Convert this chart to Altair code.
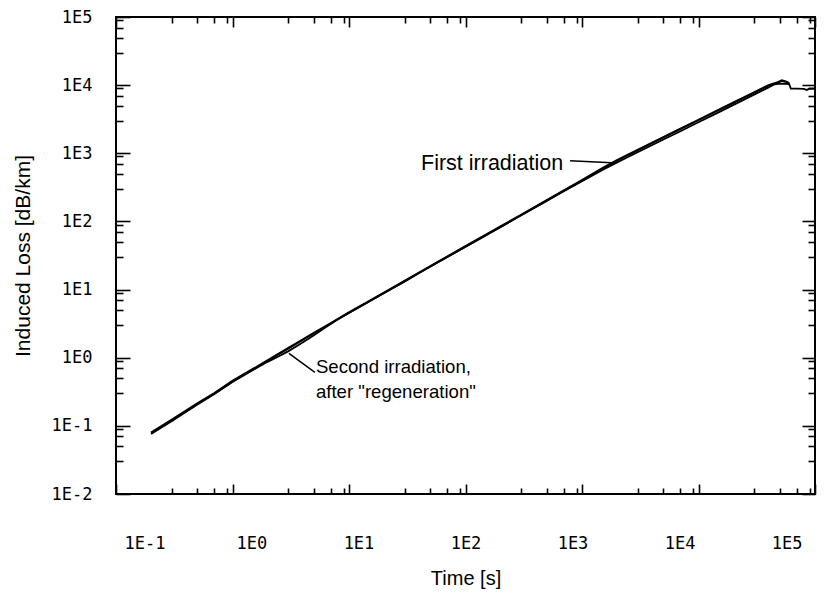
import altair as alt
import pandas as pd

# ---- data ----
first_t = [0.2, 0.3, 0.5, 0.7, 1, 1.5, 2, 3, 4, 5, 7, 10, 15, 20, 30, 40, 60, 100,
           150, 200, 300, 450, 700, 1000, 1500, 2000, 3000, 5000, 7000, 10000,
           15000, 20000, 30000, 40000, 48000, 52000, 56000, 60000]
first_loss = [0.079, 0.122, 0.212, 0.302, 0.455, 0.68, 0.91, 1.37, 1.83, 2.3, 3.2, 4.6,
              6.8, 9.0, 13.3, 17.7, 26.2, 43, 63.5, 84, 124, 184, 283, 400, 600, 790,
              1110, 1720, 2280, 3080, 4350, 5550, 7800, 9900, 11000, 11700, 11300, 10600]

second_t = [0.2, 0.3, 0.5, 0.7, 1, 1.5, 2, 2.5, 3, 4, 5, 6, 7, 8, 10, 15, 20, 30, 40,
            60, 100, 150, 200, 300, 450, 700, 1000, 1500, 2000, 3000, 5000, 7000,
            10000, 15000, 20000, 30000, 40000, 45000, 50000, 60000, 62000, 70000,
            80000, 85000, 90000, 100000]
second_loss = [0.076, 0.117, 0.205, 0.293, 0.44, 0.66, 0.87, 1.05, 1.24, 1.67, 2.14, 2.64,
               3.14, 3.68, 4.55, 6.75, 8.9, 13.2, 17.6, 26, 42.5, 63, 83, 123, 182, 280,
               390, 570, 736, 1035, 1590, 2110, 2850, 4020, 5130, 7250, 9260, 10300,
               10500, 10400, 8900, 8900, 8800, 8500, 8850, 8900]

x_major = [0.1, 1, 10, 100, 1000, 10000, 100000]
y_major = [0.01, 0.1, 1, 10, 100, 1000, 10000, 100000]
minor_mult = [3, 5, 7, 9]
x_ticks = x_major + [m * d for d in x_major[:-1] for m in minor_mult]
y_ticks = y_major + [m * d for d in y_major[:-1] for m in minor_mult]

# the printed x labels are spaced a little tighter than the ticks
label_domain = [10 ** -1.266, 10 ** 5.266]

ann_first_text = ["First irradiation"]
ann_first_x = [690]
ann_first_y = [700]
ann_second_text = ["Second irradiation,", 'after "regeneration"']
ann_second_x = [5.2, 5.2]
ann_second_y = [0.72, 0.31]

ptr_x = [790, 3.05]
ptr_y = [777, 1.16]
ptr_x2 = [1800, 5.1]
ptr_y2 = [726, 0.61]

# ---- styling ----
TICK_FONT = "DejaVu Sans Mono"
TEXT_FONT = "Liberation Sans"
MAJOR = "abs(log(datum.value) / LN10 - round(log(datum.value) / LN10)) < 0.01"
LABEL_EXPR = f"{MAJOR} ? '1E' + round(log(datum.value) / LN10) : ''"


def tick_size(major, minor):
    return {"condition": {"test": MAJOR, "value": -major}, "value": -minor}


xs = alt.Scale(type="log", domain=[0.1, 100000], nice=False)
ys = alt.Scale(type="log", domain=[0.01, 100000], nice=False)

x_axis_main = alt.Axis(orient="bottom", values=x_ticks, labels=False, domain=False,
                       grid=False, title=None, tickColor="black", tickWidth=1.6,
                       tickSize=tick_size(10, 6))
y_axis_main = alt.Axis(orient="left", values=y_ticks, labelExpr=LABEL_EXPR,
                       labelFont=TICK_FONT, labelFontSize=17, labelColor="black",
                       labelPadding=38, labelOverlap=False, labelFlush=False,
                       domain=False, grid=False, tickColor="black", tickWidth=1.6,
                       tickSize=tick_size(14, 7), title="Induced Loss [dB/km]",
                       titleFont=TEXT_FONT, titleFontSize=21, titleFontWeight="normal",
                       titleColor="black", titlePadding=18)
x_axis_top = alt.Axis(orient="top", values=x_ticks, labels=False, domain=False,
                      grid=False, title=None, tickColor="black", tickWidth=1.6,
                      tickSize=tick_size(10, 6))
y_axis_right = alt.Axis(orient="right", values=y_ticks, labels=False, domain=False,
                        grid=False, title=None, tickColor="black", tickWidth=1.6,
                        tickSize=tick_size(13, 7))
x_axis_labels = alt.Axis(orient="bottom", values=x_major, labelExpr=LABEL_EXPR,
                         labelFont=TICK_FONT, labelFontSize=17, labelColor="black",
                         labelPadding=41, labelOverlap=False, labelFlush=False,
                         ticks=False, tickSize=0, domain=False, grid=False,
                         title="Time [s]", titleFont=TEXT_FONT, titleFontSize=20,
                         titleFontWeight="normal", titleColor="black", titlePadding=17)

df_first = pd.DataFrame({"t": first_t, "loss": first_loss})
df_second = pd.DataFrame({"t": second_t, "loss": second_loss})
df_ann1 = pd.DataFrame({"t": ann_first_x, "loss": ann_first_y, "text": ann_first_text})
df_ann2 = pd.DataFrame({"t": ann_second_x, "loss": ann_second_y, "text": ann_second_text})
df_ptr = pd.DataFrame({"t": ptr_x, "loss": ptr_y, "t2": ptr_x2, "loss2": ptr_y2})

X = alt.X("t:Q", scale=xs, axis=x_axis_main)
Y = alt.Y("loss:Q", scale=ys, axis=y_axis_main)

line_first = alt.Chart(df_first).mark_line(color="black", strokeWidth=2.4).encode(x=X, y=Y)
line_second = alt.Chart(df_second).mark_line(color="black", strokeWidth=1.8).encode(x=X, y=Y)
text1 = alt.Chart(df_ann1).mark_text(align="right", baseline="middle", font=TEXT_FONT,
                                      fontSize=21.5, color="black").encode(
    x=X, y=Y, text="text:N")
text2 = alt.Chart(df_ann2).mark_text(align="left", baseline="middle", font=TEXT_FONT,
                                      fontSize=18.6, color="black").encode(
    x=X, y=Y, text="text:N")
pointers = alt.Chart(df_ptr).mark_rule(color="black", strokeWidth=1.5).encode(
    x=X, y=Y, x2="t2:Q", y2="loss2:Q")

inner = alt.layer(line_first, line_second, pointers, text1, text2)

frame = alt.Chart(df_first).mark_point(opacity=0).encode(
    x=alt.X("t:Q", scale=xs, axis=x_axis_top),
    y=alt.Y("loss:Q", scale=ys, axis=y_axis_right),
)

labels_layer = alt.Chart(pd.DataFrame({"v": x_major})).mark_rule(opacity=0).encode(
    x=alt.X("v:Q", scale=alt.Scale(type="log", domain=label_domain, nice=False),
            axis=x_axis_labels),
)

chart = alt.layer(inner, frame, labels_layer).resolve_scale(
    x="independent", y="independent"
).properties(
    width=699,
    height=477,
    autosize=alt.AutoSizeParams(type="none"),
    padding={"left": 108, "top": 9, "right": 11, "bottom": 95},
).configure_view(stroke="black", strokeWidth=2)

chart.save("out.html", embed_options={"renderer": "svg", "actions": False})
